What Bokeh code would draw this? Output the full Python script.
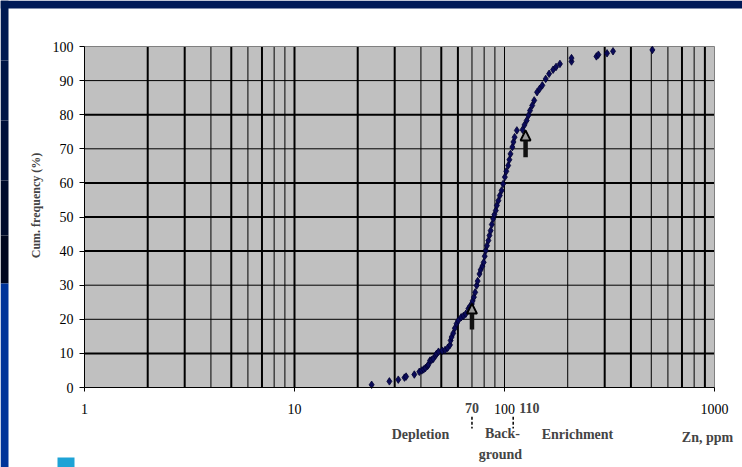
import math
from bokeh.plotting import figure
from bokeh.models import (FixedTicker, Label, BoxAnnotation, Arrow,
                          NormalHead, BasicTickFormatter, Range1d)
from bokeh.embed import file_html
from bokeh.resources import INLINE

# Zn concentration (ppm) and cumulative frequency (%) of the samples
zn_ppm = [23.3, 28.3, 31.2, 33.4, 34.0, 37.2, 39.3, 40.4, 41.2, 42.0, 43.0,
          43.4, 44.2, 45.0, 45.8, 47.0, 47.5, 48.5, 50.5, 52.1, 53.6, 55.0,
          55.4, 56.0, 57.0, 58.0, 59.1, 60.2, 62.2, 63.8, 65.4, 67.3, 68.5,
          69.9, 70.5, 71.5, 72.5, 73.7, 74.5, 76.0, 77.0, 78.5, 79.6, 80.5,
          81.5, 82.5, 83.8, 84.8, 85.9, 87.0, 88.3, 89.5, 90.9, 92.0, 93.5,
          95.0, 96.9, 98.5, 100.4, 102.0, 104.1, 105.5, 106.8, 109.0, 110.3,
          111.7, 114.5, 121.9, 124.5, 127.5, 130.0, 132.3, 135.5, 138.5,
          142.9, 147.0, 151.4, 157.1, 163.1, 170.4, 176.0, 183.6, 208.5,
          208.5, 274.0, 280.0, 307.8, 328.7, 506.0]
cum_freq = [0.8, 1.8, 2.3, 2.9, 3.2, 3.8, 4.6, 5.0, 5.3, 5.7, 6.3,
            6.7, 7.9, 8.1, 8.4, 9.4, 9.9, 10.5, 10.8, 11.0, 11.6, 12.5,
            13.8, 14.8, 15.9, 17.4, 18.7, 19.6, 20.6, 21.0, 21.6, 23.1, 23.8,
            24.5, 25.4, 26.5, 27.9, 29.9, 31.2, 33.3, 34.5, 35.6, 36.7, 38.5,
            40.2, 41.6, 43.1, 44.6, 46.0, 47.8, 49.5, 50.7, 51.9, 53.4, 54.8,
            56.3, 57.8, 59.7, 61.7, 63.4, 65.1, 66.8, 68.5, 70.5, 72.0,
            73.4, 75.4, 75.6, 77.0, 78.3, 79.8, 81.2, 82.7, 84.2,
            86.6, 87.6, 88.6, 90.5, 92.0, 93.2, 94.0, 94.9, 95.6,
            96.6, 97.1, 97.6, 98.0, 98.6, 99.0]

x_ticks = [1, 10, 100, 1000]
y_ticks = [0, 10, 20, 30, 40, 50, 60, 70, 80, 90, 100]
x_grid_heavy = [2, 3, 5, 7, 10, 20, 30, 50, 60, 300, 400, 700, 900]
x_grid_light = [4, 6, 8, 9, 40, 70, 80, 90, 100, 200, 500, 600, 800]
y_grid_heavy = [10, 40, 50, 60, 80]
y_grid_light = [20, 30, 70, 90]

# class boundaries (ppm) and the arrows pointing at the curve
thresholds = [70, 110]
threshold_labels = ["70", "110"]
arrow_x = [70, 126]
arrow_from = [17.0, 67.5]
arrow_to = [24.6, 75.4]

SERIF = "Liberation Serif"
NAVY = "#001a57"
W, H = 742, 467
# pixel box of the plotting area inside the page
PX_LEFT, PX_RIGHT, PX_TOP, PX_BOTTOM = 84, 714, 46, 387
X_MIN, X_MAX, Y_MIN, Y_MAX = 1, 1000, 0, 100

dec = (PX_RIGHT - PX_LEFT) / (math.log10(X_MAX) - math.log10(X_MIN))
ypp = (PX_BOTTOM - PX_TOP) / (Y_MAX - Y_MIN)
x_range = Range1d(10 ** (math.log10(X_MIN) - PX_LEFT / dec),
                  10 ** (math.log10(X_MAX) + (W - PX_RIGHT) / dec))
y_range = Range1d(Y_MIN - (H - PX_BOTTOM) / ypp, Y_MAX + PX_TOP / ypp)

p = figure(width=W, height=H, x_axis_type="log",
           x_range=x_range, y_range=y_range,
           output_backend="svg", toolbar_location=None,
           min_border=0, min_border_left=0, min_border_right=0,
           min_border_top=0, min_border_bottom=0,
           background_fill_color="white", border_fill_color="white",
           outline_line_color=None)
p.xgrid.visible = False
p.ygrid.visible = False

# plotting area and its grid
p.quad(left=X_MIN, right=X_MAX, bottom=Y_MIN, top=Y_MAX,
       fill_color="#c0c0c0", line_color=None)
p.segment(x0=x_grid_heavy, y0=Y_MIN, x1=x_grid_heavy, y1=Y_MAX,
          line_color="black", line_width=2)
p.segment(x0=x_grid_light, y0=Y_MIN, x1=x_grid_light, y1=Y_MAX,
          line_color="black", line_width=1)
p.segment(x0=X_MIN, y0=y_grid_heavy, x1=X_MAX, y1=y_grid_heavy,
          line_color="black", line_width=2)
p.segment(x0=X_MIN, y0=y_grid_light, x1=X_MAX, y1=y_grid_light,
          line_color="black", line_width=1)
p.segment(x0=[X_MIN, X_MAX], y0=[Y_MAX, Y_MIN], x1=[X_MAX, X_MAX],
          y1=[Y_MAX, Y_MAX], line_color="#808080", line_width=1)

# axes drawn along the plotting area's edges
p.xaxis.fixed_location = Y_MIN
p.yaxis.fixed_location = X_MIN
p.xaxis.bounds = (X_MIN, X_MAX)
p.yaxis.bounds = (Y_MIN, Y_MAX)
p.xaxis.ticker = FixedTicker(ticks=x_ticks, minor_ticks=[])
p.xaxis.formatter = BasicTickFormatter()
p.yaxis.ticker = FixedTicker(ticks=y_ticks, minor_ticks=[])
for ax in (p.xaxis, p.yaxis):
    ax.axis_line_color = "black"
    ax.major_tick_line_color = "black"
    ax.major_tick_in = 0
    ax.minor_tick_line_color = None
    ax.major_label_text_font = SERIF
    ax.major_label_text_font_size = "14px"
    ax.major_label_text_color = "black"
p.xaxis.major_tick_out = 4
p.xaxis.major_label_standoff = 12
p.yaxis.major_tick_out = 5
p.yaxis.major_label_standoff = 6

# samples
p.scatter(zn_ppm, cum_freq, marker="diamond", size=7.5,
          fill_color="#0a0a5a", line_color="#000030", line_width=0.8)

# arrows pointing at the breaks of the curve
for xv, y0, y1 in zip(arrow_x, arrow_from, arrow_to):
    p.add_layout(Arrow(end=NormalHead(size=10, fill_color="#9a9a9a",
                                      line_color="black", line_width=2),
                       x_start=xv, y_start=y0, x_end=xv, y_end=y1,
                       line_width=4.5, line_color="#111111"))

# dashed boundary marks under the axis with their values
p.segment(x0=thresholds, y0=-8.6, x1=thresholds, y1=-12.0,
          line_color="black", line_width=1.5, line_dash="3 2")
p.add_layout(Label(x=thresholds[0], y=407, y_units="canvas",
                   text=threshold_labels[0], text_font=SERIF,
                   text_font_size="14px", text_font_style="bold",
                   text_align="center", text_baseline="alphabetic"))
p.add_layout(Label(x=thresholds[1], y=407, y_units="canvas", x_offset=6,
                   text=threshold_labels[1], text_font=SERIF,
                   text_font_size="14px", text_font_style="bold",
                   text_align="left", text_baseline="alphabetic"))

# class names under the axis
bold = dict(text_font=SERIF, text_font_size="14px", text_font_style="bold",
            text_baseline="alphabetic", x_units="canvas", y_units="canvas")
p.add_layout(Label(x=420, y=434, text="Depletion", text_align="center", **bold))
p.add_layout(Label(x=502, y=433, text="Back-", text_align="center", **bold))
p.add_layout(Label(x=500, y=454, text="ground", text_align="center", **bold))
p.add_layout(Label(x=577, y=434, text="Enrichment", text_align="center", **bold))
p.add_layout(Label(x=707, y=437, text="Zn, ppm", text_align="center", **bold))
p.add_layout(Label(x=35, y=205, text="Cum. frequency (%)", angle=math.pi / 2,
                   text_font=SERIF, text_font_size="12px",
                   text_font_style="bold", text_align="center",
                   text_baseline="middle", x_units="canvas", y_units="canvas"))

# slide frame
def band(l, r, t, b, color):
    p.add_layout(BoxAnnotation(left=l, right=r, top=t, bottom=b,
                               left_units="canvas", right_units="canvas",
                               top_units="canvas", bottom_units="canvas",
                               fill_color=color, fill_alpha=1,
                               line_color=None, level="overlay"))

band(0, W, 0, 8, NAVY)
band(0, 8, 0, 60, "#001a52")
band(0, 8, 60, 120, "#001546")
band(0, 8, 120, 180, "#00103a")
band(0, 8, 180, 235, "#000b2c")
band(0, 8, 235, 283, "#00061e")
band(0, 8, 283, H, "#003399")
band(57, 74, 457, H, "#1ea3d6")

open("out.html", "w").write(file_html(p, INLINE))
